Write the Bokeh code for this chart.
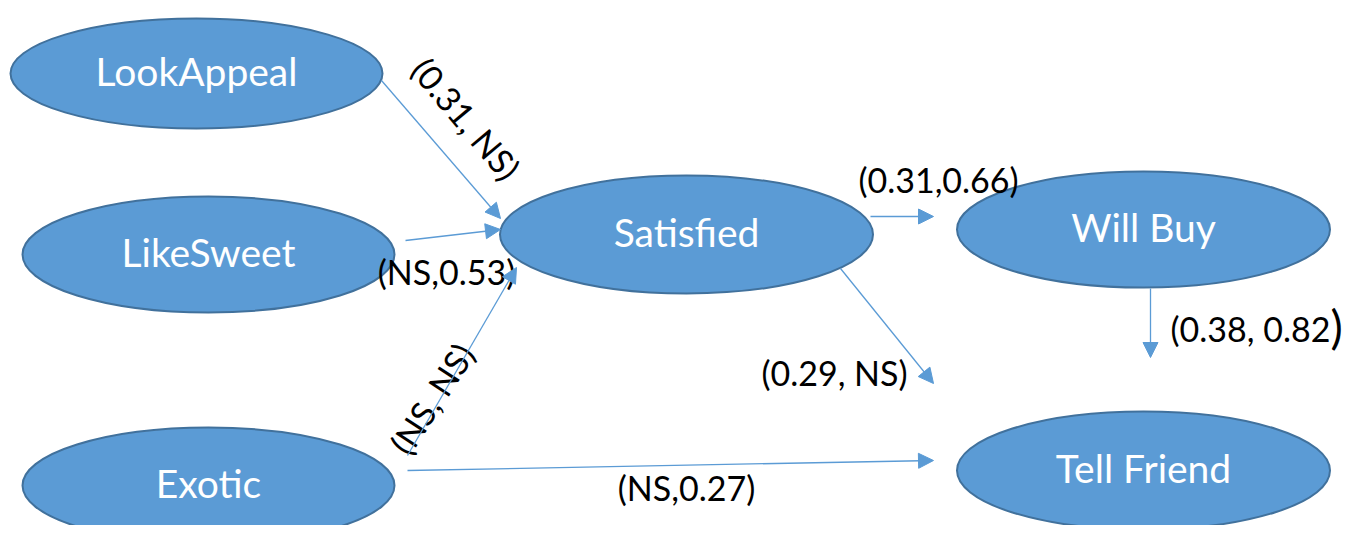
from bokeh.plotting import figure
from bokeh.models import Range1d, ColumnDataSource, Arrow, NormalHead
from bokeh.core.properties import value
from bokeh.embed import file_html
from bokeh.resources import INLINE

# Nodes (diagram coordinates, y grows downward)
node_names = ["LookAppeal", "LikeSweet", "Exotic", "Satisfied", "Will Buy", "Tell Friend"]
node_x = [196, 208, 208, 686, 1143, 1143]
node_y = [73, 254, 485, 234, 229, 470]
node_w = [372, 372, 372, 373, 373, 373]
node_h = [110, 116, 116, 118, 116, 118]

# Edges: start / end points of each path
edge_x0 = [381, 405, 407, 870, 840, 1150, 407]
edge_y0 = [80, 240, 455, 216, 268, 288, 470]
edge_x1 = [500, 500, 516, 933, 933, 1150, 933]
edge_y1 = [218, 229, 267, 216, 383, 357, 460]

# Path coefficient labels
label_text = ["(0.31, NS)", "(NS,0.53)", "(NS, NS)", "(0.31,0.66)", "(0.29, NS)", "(NS,0.27)"]
label_x = [466, 446, 431, 938, 834, 686]
label_y = [120, 273, 400, 181, 374, 489]
label_angle = [-50, 0, 57, 0, 0, 0]

wb_label = "(0.38, 0.82"
wb_x = 1170
wb_y = 330

FILL = "#5B9BD5"
EDGE = "#41719C"
FONT = "Lato"

p = figure(width=1342, height=525, output_backend="svg", toolbar_location=None,
           x_range=Range1d(0, 1342), y_range=Range1d(525, 0),
           min_border=0, outline_line_color=None)
p.axis.visible = False
p.grid.visible = False
p.background_fill_color = "white"
p.border_fill_color = "white"

edges = ColumnDataSource(dict(x0=edge_x0, y0=edge_y0, x1=edge_x1, y1=edge_y1))
p.add_layout(Arrow(x_start="x0", y_start="y0", x_end="x1", y_end="y1", source=edges,
                   line_color=FILL, line_width=1.3,
                   end=NormalHead(size=15, fill_color=FILL, line_color=FILL, line_width=1)))

nodes = ColumnDataSource(dict(x=node_x, y=node_y, w=node_w, h=node_h, name=node_names))
p.ellipse(x="x", y="y", width="w", height="h", source=nodes,
          fill_color=FILL, line_color=EDGE, line_width=2)
p.text(x="x", y="y", text="name", source=nodes, text_color="white",
       text_font=value(FONT), text_font_size="39px", y_offset=-3,
       text_align="center", text_baseline="middle")

labels = ColumnDataSource(dict(x=label_x, y=label_y, t=label_text, a=label_angle))
p.text(x="x", y="y", text="t", angle="a", angle_units="deg", source=labels,
       text_color="black", text_font=value(FONT), text_font_size="34px", y_offset=-2,
       text_align="center", text_baseline="middle")

p.text(x=[wb_x], y=[wb_y], text=[wb_label], text_color="black",
       text_font=value(FONT), text_font_size="34px", y_offset=-2,
       text_align="left", text_baseline="middle")
p.text(x=[wb_x + 160], y=[wb_y - 2], text=[")"], text_color="black",
       text_font=value(FONT), text_font_size="46px", y_offset=-2,
       text_align="left", text_baseline="middle")

open("out.html", "w").write(file_html(p, INLINE))
